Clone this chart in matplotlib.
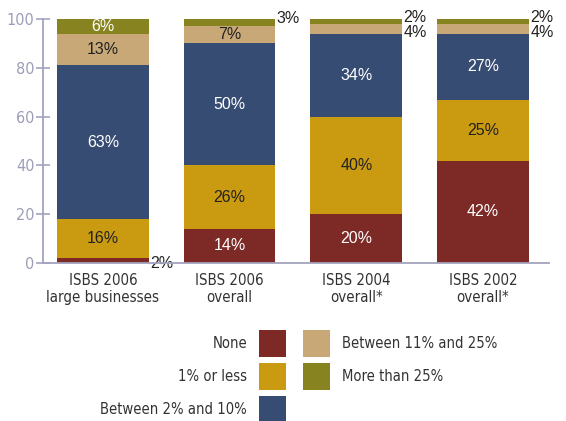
import matplotlib
matplotlib.use("Agg")
import matplotlib.pyplot as plt
from matplotlib.patches import Rectangle
from matplotlib import font_manager
from matplotlib.font_manager import FontProperties
import numpy as np
import os

categories = ["ISBS 2006\nlarge businesses", "ISBS 2006\noverall", "ISBS 2004\noverall*", "ISBS 2002\noverall*"]
series_names = ["None", "1% or less", "Between 2% and 10%", "Between 11% and 25%", "More than 25%"]
none_vals = [2, 14, 20, 42]
one_or_less = [16, 26, 40, 25]
two_to_ten = [63, 50, 34, 27]
eleven_to_25 = [13, 7, 4, 4]
more_than_25 = [6, 3, 2, 2]
yticks = [0, 20, 40, 60, 80, 100]

colors = ["#7d2a26", "#ca9a10", "#374c73", "#c8a876", "#868320"]
text_colors = ["white", "#222222", "white", "#222222", "white"]

plt.rcParams['font.family'] = ['Liberation Sans', 'DejaVu Sans']

# narrow / condensed regular sans face for axis and legend text
fonts = font_manager.findSystemFonts()
by_name = {os.path.basename(f).lower(): f for f in fonts}
narrow_path = None
for name in ["liberationsansnarrow-regular.ttf", "dejavusanscondensed.ttf"]:
    if name in by_name:
        narrow_path = by_name[name]
        break


def nfp(size):
    if narrow_path:
        return FontProperties(fname=narrow_path, size=size)
    return FontProperties(family="Liberation Sans", size=size * 0.92)


W, H = 566, 421
fig = plt.figure(figsize=(W / 100, H / 100), dpi=100)

# keep the narrow text close to the reference's widths
renderer = fig.canvas.get_renderer()
probe = fig.text(0, 0, "large businesses", fontproperties=nfp(12.5))
pw = probe.get_window_extent(renderer).width
probe.remove()
k = min(1.0, 113.0 / pw) if pw > 0 else 1.0

series = [none_vals, one_or_less, two_to_ten, eleven_to_25, more_than_25]

ax = fig.add_axes([43 / W, 1 - 263 / H, (549 - 43) / W, (263 - 19) / H])

x = np.arange(len(categories))
width = 0.724
bottom = np.zeros(len(categories))
for s, vals in enumerate(series):
    vals = np.array(vals, dtype=float)
    ax.bar(x, vals, width, bottom=bottom, color=colors[s], linewidth=0, zorder=2)
    for i, v in enumerate(vals):
        if v >= 5:
            ax.text(x[i], bottom[i] + v / 2, f"{int(v)}%", ha="center", va="center",
                    color=text_colors[s], fontsize=11.5)
        else:
            if s == 0:
                yy = bottom[i] + v / 2 - 1.2
            elif s == 4:
                yy = bottom[i] + v / 2 + 1.6
            else:
                yy = bottom[i] + v / 2 - 1.4
            ax.text(x[i] + width / 2 + 0.01, yy, f"{int(v)}%", ha="left", va="center",
                    color="#222222", fontsize=11.5)
    bottom += vals

ax.set_xlim(-0.472, 3.52)
ax.set_ylim(0, 100)
ax.set_yticks(yticks)
ax.set_yticklabels([str(t) for t in yticks], fontproperties=nfp(13.5 * k), color="#9d9db8")
ax.set_xticks(x)
ax.set_xticklabels(categories, fontproperties=nfp(12.5 * k), color="#333333", linespacing=1.2)
ax.tick_params(axis="x", length=0, pad=7)
ax.tick_params(axis="y", direction="inout", length=10, width=1.2, colors="#a3a3bd",
               labelcolor="#9d9db8", pad=1)
for sp in ["top", "right"]:
    ax.spines[sp].set_visible(False)
for sp in ["left", "bottom"]:
    ax.spines[sp].set_color("#a3a3bd")
    ax.spines[sp].set_linewidth(1.3)
ax.spines["bottom"].set_zorder(3)


def fx(px):
    return px / W


def fy(py):
    return 1 - py / H


sq = 27
left_col = [0, 1, 2]
right_col = [3, 4]
row_tops = [330, 363, 396]
for r, s in enumerate(left_col):
    top = row_tops[r]
    fig.add_artist(Rectangle((fx(259), fy(top + sq)), sq / W, sq / H, color=colors[s],
                             transform=fig.transFigure, linewidth=0))
    fig.text(fx(247), fy(top + sq / 2), series_names[s], ha="right", va="center",
             fontproperties=nfp(12.3 * k), color="#333333")
for r, s in enumerate(right_col):
    top = row_tops[r]
    fig.add_artist(Rectangle((fx(303), fy(top + sq)), sq / W, sq / H, color=colors[s],
                             transform=fig.transFigure, linewidth=0))
    fig.text(fx(342), fy(top + sq / 2), series_names[s], ha="left", va="center",
             fontproperties=nfp(12.3 * k), color="#333333")

fig.savefig("out.png", dpi=100)
